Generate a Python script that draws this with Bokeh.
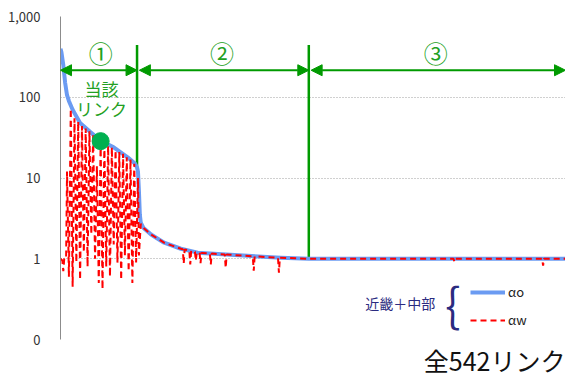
from bokeh.plotting import figure
from bokeh.models import (Range1d, FixedTicker, CustomJSTickFormatter, Legend, LegendItem,
                          Arrow, NormalHead, Label, Title)
from bokeh.embed import file_html
from bokeh.resources import INLINE

# Links sorted by alpha_o (542 links in total), log scale
link_o = [1, 2, 4, 6, 8, 10, 14, 22, 33, 44, 58, 73, 81, 83, 84, 85, 86, 87, 90, 98,
          112, 130, 148, 183, 237, 267, 542]
alpha_o = [400, 360, 250, 150, 106, 90, 70, 48, 37, 29, 24, 18, 15, 13.5, 12, 7, 3.5, 2.8,
           2.4, 2.0, 1.58, 1.33, 1.19, 1.12, 1.03, 1.0, 1.0]

link_w = [1, 3, 4, 5, 7, 8, 10, 12, 14, 16, 18, 20, 22, 24, 26, 28, 30, 32, 34, 36, 38, 40,
          42, 44, 46, 48, 50, 52, 54, 56, 58, 60, 62, 64, 66, 68, 70, 72, 74, 76, 78, 80, 82,
          84, 85, 87, 90, 98, 112, 130, 132, 133, 134, 139, 140, 141, 145, 146, 147, 150,
          151, 152, 161, 162, 163, 177, 178, 179, 183, 207, 208, 209, 234, 235, 236, 267,
          422, 423, 424, 517, 518, 519, 542]
alpha_w = [1.0, 0.95, 0.7, 1.0, 1.0, 12, 0.6, 72, 0.45, 55, 0.9, 50, 0.55, 44, 1.2, 41, 0.8,
           38, 2.0, 35, 1.0, 14, 0.5, 27, 0.42, 26, 0.8, 25, 0.6, 24, 1.5, 22, 0.9, 21, 0.55,
           20, 1.1, 18, 0.7, 17, 0.5, 15, 0.9, 10, 1.1, 2.7, 2.4, 2.0, 1.58, 1.33, 1.31, 0.87,
           1.30, 1.27, 0.85, 1.26, 1.22, 0.95, 1.20, 1.18, 0.88, 1.18, 1.16, 0.85, 1.16, 1.13,
           0.77, 1.13, 1.12, 1.07, 0.71, 1.07, 1.03, 0.67, 1.03, 1.0, 1.0, 0.92, 1.0, 1.0,
           0.82, 1.0, 1.0]

# The link in question
focus_link = [44]
focus_value = [28.6]

# Section boundaries (links) and their labels
section_edges = [1, 83, 267, 542]
section_labels = ["①", "②", "③"]

ytick_values = [0.1, 1, 10, 100, 1000]
ytick_labels = ["0", "1", "10", "100", "1,000"]

JP = "Noto Sans CJK JP"
GREEN = "#009A00"
GREEN_TXT = "#22A022"
BLUE = "#6B9BF2"
RED = "#FF0000"
NAVY = "#2B2B80"

p = figure(width=565, height=377, y_axis_type="log",
           x_range=Range1d(1, 542), y_range=Range1d(0.1, 1000),
           output_backend="svg", toolbar_location=None,
           min_border_left=60, min_border_right=0, min_border_top=16, min_border_bottom=0)
p.outline_line_color = None
p.xaxis.visible = False
p.xgrid.visible = False
p.background_fill_color = "white"
p.border_fill_color = "white"

yaxis = p.yaxis[0]
yaxis.ticker = FixedTicker(ticks=ytick_values, minor_ticks=[])
yaxis.formatter = CustomJSTickFormatter(
    args=dict(vals=ytick_values, labs=ytick_labels),
    code="""
const i = vals.findIndex(v => Math.abs(Math.log10(v) - Math.log10(tick)) < 1e-6);
return i >= 0 ? labs[i] : "";
""")
yaxis.axis_line_color = "#8c8c8c"
yaxis.major_tick_line_color = None
yaxis.minor_tick_line_color = None
yaxis.major_label_standoff = 14
yaxis.major_label_text_font = JP
yaxis.major_label_text_font_size = "13px"
yaxis.major_label_text_color = "#333333"

p.ygrid.grid_line_color = "#a0a0a0"
p.ygrid.grid_line_dash = "1 2"
p.ygrid.grid_line_width = 1

# Section dividers and arrows
div_x = section_edges[1:3]
div_bottom = [alpha_o[link_o.index(x)] for x in div_x]
p.segment(x0=div_x, y0=div_bottom, x1=div_x, y1=[443, 443], line_color=GREEN, line_width=2.5)

arrow_y = 216
gaps = [0, 2.5, 2.5]
for i in range(3):
    p.add_layout(Arrow(
        x_start=section_edges[i] + gaps[i], y_start=arrow_y,
        x_end=section_edges[i + 1], y_end=arrow_y,
        line_color=GREEN, line_width=2,
        start=NormalHead(size=11, fill_color=GREEN, line_color=GREEN),
        end=NormalHead(size=11, fill_color=GREEN, line_color=GREEN)))

label_x = [44, 174, 403]
for lx, txt in zip(label_x, section_labels):
    p.add_layout(Label(x=lx, y=362, text=txt, text_align="center", text_baseline="middle",
                       text_font=JP, text_font_size="24px", text_color=GREEN_TXT))

p.add_layout(Label(x=45, y=129, text="当該", text_align="center", text_baseline="middle",
                   text_font=JP, text_font_size="17px", text_color=GREEN_TXT))
p.add_layout(Label(x=45, y=73, text="リンク", text_align="center", text_baseline="middle",
                   text_font=JP, text_font_size="17px", text_color=GREEN_TXT))

# Series
r_o = p.line(link_o, alpha_o, line_color=BLUE, line_width=4, line_join="round")
r_w = p.line(link_w, alpha_w, line_color=RED, line_width=2, line_dash="6 4")
p.scatter(focus_link, focus_value, size=17, color="#00B050")

legend = Legend(items=[LegendItem(label="αo", renderers=[r_o]),
                       LegendItem(label="αw", renderers=[r_w])],
                location=(410, 10), glyph_width=35, glyph_height=18, label_height=18,
                spacing=9, padding=0, margin=0, border_line_color=None,
                background_fill_alpha=0, label_text_font=JP, label_text_font_size="13px",
                label_standoff=3, label_text_color="#222222")
p.add_layout(legend)

p.add_layout(Label(x=365, y=0.284, text="近畿＋中部", text_align="center", text_baseline="middle",
                   text_font=JP, text_font_size="14px", text_color=NAVY))
p.add_layout(Label(x=405, y=0.268, text="｛", text_align="center", text_baseline="middle",
                   text_font=JP, text_font_size="46px", text_color=NAVY))

p.add_layout(Title(text="全542リンク", align="right", text_font=JP, text_font_size="25px",
                   text_font_style="normal", text_color="#111111", standoff=0, offset=0),
             "below")

open("out.html", "w").write(file_html(p, INLINE))
